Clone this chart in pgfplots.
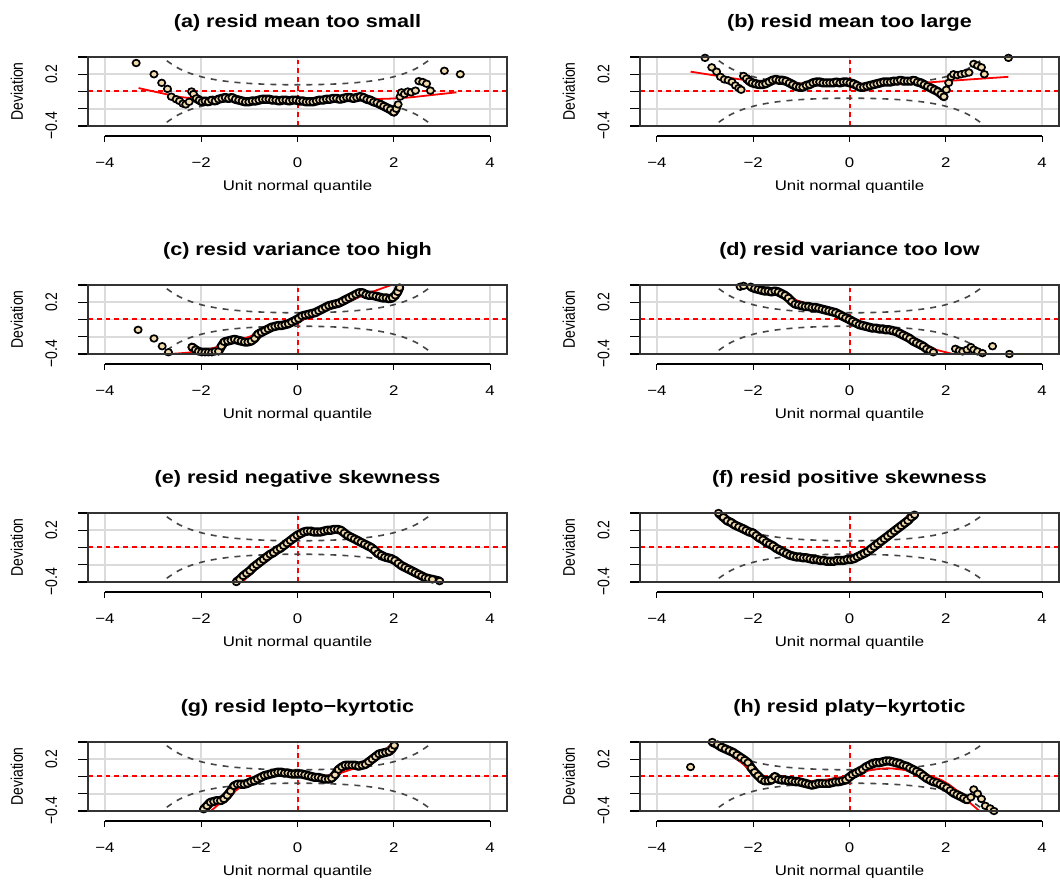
\documentclass[border=0pt]{standalone}
\usepackage{fontspec}
\setmainfont{Liberation Sans}[FakeStretch=1.2]
\newfontfamily\rotfont{Liberation Sans}
\usepackage{pgfplots}
\usepackage{pgfplotstable}
\pgfplotsset{compat=1.18}
\definecolor{wheatc}{HTML}{F2DCAE}
\definecolor{refred}{RGB}{255,0,0}
\definecolor{banddark}{RGB}{70,70,70}

\pgfplotstableread{
z up lo
-2.9 0.4493 -0.4493
-2.75 0.3715 -0.3715
-2.5 0.2778 -0.2778
-2.25 0.2146 -0.2146
-2.0 0.1712 -0.1712
-1.75 0.1409 -0.1409
-1.5 0.1195 -0.1195
-1.25 0.1043 -0.1043
-1.0 0.0936 -0.0936
-0.75 0.0862 -0.0862
-0.5 0.0813 -0.0813
-0.25 0.0786 -0.0786
0 0.0777 -0.0777
0.25 0.0786 -0.0786
0.5 0.0813 -0.0813
0.75 0.0862 -0.0862
1.0 0.0936 -0.0936
1.25 0.1043 -0.1043
1.5 0.1195 -0.1195
1.75 0.1409 -0.1409
2.0 0.1712 -0.1712
2.25 0.2146 -0.2146
2.5 0.2778 -0.2778
2.75 0.3715 -0.3715
2.9 0.4493 -0.4493
}\bandtab

\pgfplotstableread{
x y
-4.35 0.004
4.35 0.004
}\hreftab
\pgfplotstableread{
x y
0.008 -0.4
0.008 0.4
}\vreftab

% worm points, one table per panel
\pgfplotstableread[row sep=\\]{x y\\
-3.35 0.33\\ -2.98 0.20\\ -2.82 0.10\\ -2.70 0.03\\ -2.62 -0.06\\ -2.52 -0.09\\ -2.45 -0.11\\ -2.38 -0.14\\ -2.32 -0.15\\ -2.25 -0.12\\ -2.20 0.00\\ -2.16 -0.03\\ -2.10 -0.08\\ -2.04 -0.10\\ -1.98 -0.12\\ -1.92 -0.11\\ -1.85 -0.12\\ -1.78 -0.10\\ -1.71 -0.11\\ -1.64 -0.09\\ -1.57 -0.08\\ -1.50 -0.07\\ -1.43 -0.08\\ -1.36 -0.07\\ -1.29 -0.09\\ -1.22 -0.10\\ -1.15 -0.11\\ -1.08 -0.12\\ -1.01 -0.12\\ -0.94 -0.11\\ -0.87 -0.11\\ -0.80 -0.10\\ -0.73 -0.09\\ -0.66 -0.09\\ -0.59 -0.09\\ -0.52 -0.10\\ -0.45 -0.10\\ -0.38 -0.11\\ -0.31 -0.10\\ -0.24 -0.10\\ -0.17 -0.11\\ -0.10 -0.10\\ -0.03 -0.10\\ 0.04 -0.11\\ 0.11 -0.11\\ 0.18 -0.12\\ 0.25 -0.12\\ 0.32 -0.12\\ 0.39 -0.11\\ 0.46 -0.10\\ 0.53 -0.10\\ 0.60 -0.09\\ 0.67 -0.09\\ 0.74 -0.08\\ 0.81 -0.08\\ 0.88 -0.09\\ 0.95 -0.08\\ 1.02 -0.07\\ 1.09 -0.07\\ 1.16 -0.08\\ 1.23 -0.07\\ 1.30 -0.06\\ 1.37 -0.07\\ 1.44 -0.09\\ 1.51 -0.10\\ 1.58 -0.12\\ 1.65 -0.13\\ 1.72 -0.15\\ 1.79 -0.17\\ 1.86 -0.19\\ 1.93 -0.21\\ 2.00 -0.24\\ 2.05 -0.20\\ 2.09 -0.15\\ 2.13 -0.06\\ 2.16 -0.01\\ 2.22 -0.03\\ 2.29 0.00\\ 2.36 -0.01\\ 2.45 0.01\\ 2.52 0.12\\ 2.60 0.11\\ 2.68 0.09\\ 2.76 0.01\\ 3.05 0.24\\ 3.38 0.20\\
}\ptsA
\pgfplotstableread[row sep=\\]{x y\\
-3.00 0.39\\ -2.86 0.28\\ -2.76 0.23\\ -2.68 0.17\\ -2.60 0.14\\ -2.52 0.13\\ -2.44 0.11\\ -2.37 0.07\\ -2.30 0.04\\ -2.25 0.02\\ -2.20 0.18\\ -2.14 0.15\\ -2.08 0.12\\ -2.02 0.10\\ -1.95 0.09\\ -1.88 0.08\\ -1.81 0.08\\ -1.74 0.09\\ -1.67 0.11\\ -1.60 0.13\\ -1.53 0.14\\ -1.46 0.13\\ -1.39 0.13\\ -1.32 0.12\\ -1.25 0.10\\ -1.18 0.08\\ -1.11 0.06\\ -1.04 0.05\\ -0.97 0.05\\ -0.90 0.07\\ -0.83 0.08\\ -0.76 0.10\\ -0.69 0.11\\ -0.62 0.11\\ -0.55 0.10\\ -0.48 0.10\\ -0.41 0.10\\ -0.34 0.10\\ -0.27 0.11\\ -0.20 0.10\\ -0.13 0.11\\ -0.06 0.11\\ 0.01 0.10\\ 0.08 0.09\\ 0.15 0.07\\ 0.22 0.05\\ 0.29 0.05\\ 0.36 0.06\\ 0.43 0.07\\ 0.50 0.08\\ 0.57 0.09\\ 0.64 0.10\\ 0.71 0.11\\ 0.78 0.11\\ 0.85 0.11\\ 0.92 0.12\\ 0.99 0.12\\ 1.06 0.13\\ 1.13 0.12\\ 1.20 0.12\\ 1.27 0.12\\ 1.34 0.13\\ 1.41 0.11\\ 1.48 0.10\\ 1.55 0.08\\ 1.62 0.06\\ 1.69 0.04\\ 1.76 0.02\\ 1.83 0.00\\ 1.90 -0.03\\ 1.96 -0.06\\ 2.01 0.02\\ 2.06 0.10\\ 2.11 0.17\\ 2.16 0.20\\ 2.24 0.19\\ 2.32 0.20\\ 2.40 0.21\\ 2.48 0.22\\ 2.58 0.32\\ 2.66 0.30\\ 2.74 0.28\\ 2.80 0.20\\ 3.30 0.39\\
}\ptsB
\pgfplotstableread[row sep=\\]{x y\\
-3.31 -0.12\\ -2.98 -0.22\\ -2.81 -0.31\\ -2.68 -0.38\\ -2.19 -0.32\\ -2.12 -0.35\\ -2.06 -0.37\\ -1.99 -0.38\\ -1.92 -0.38\\ -1.85 -0.38\\ -1.78 -0.38\\ -1.71 -0.37\\ -1.64 -0.37\\ -1.58 -0.31\\ -1.52 -0.26\\ -1.45 -0.25\\ -1.38 -0.24\\ -1.31 -0.23\\ -1.24 -0.24\\ -1.17 -0.25\\ -1.10 -0.26\\ -1.03 -0.26\\ -0.96 -0.25\\ -0.89 -0.22\\ -0.82 -0.17\\ -0.75 -0.15\\ -0.68 -0.13\\ -0.61 -0.11\\ -0.54 -0.09\\ -0.47 -0.08\\ -0.40 -0.07\\ -0.33 -0.07\\ -0.26 -0.06\\ -0.19 -0.05\\ -0.12 -0.03\\ -0.05 -0.01\\ 0.02 0.01\\ 0.09 0.04\\ 0.16 0.05\\ 0.23 0.06\\ 0.30 0.07\\ 0.37 0.08\\ 0.44 0.10\\ 0.51 0.12\\ 0.58 0.14\\ 0.65 0.16\\ 0.72 0.17\\ 0.79 0.18\\ 0.86 0.19\\ 0.93 0.21\\ 1.00 0.23\\ 1.07 0.25\\ 1.14 0.27\\ 1.21 0.29\\ 1.28 0.31\\ 1.35 0.31\\ 1.42 0.29\\ 1.49 0.28\\ 1.56 0.28\\ 1.63 0.27\\ 1.70 0.26\\ 1.77 0.25\\ 1.84 0.25\\ 1.91 0.24\\ 1.97 0.25\\ 2.03 0.28\\ 2.08 0.32\\ 2.12 0.37\\
}\ptsC
\pgfplotstableread[row sep=\\]{x y\\
-2.27 0.38\\ -2.20 0.39\\ -2.05 0.38\\ -1.97 0.36\\ -1.90 0.35\\ -1.83 0.34\\ -1.76 0.33\\ -1.69 0.33\\ -1.62 0.32\\ -1.55 0.33\\ -1.48 0.32\\ -1.41 0.30\\ -1.34 0.28\\ -1.27 0.25\\ -1.20 0.21\\ -1.13 0.18\\ -1.06 0.17\\ -0.99 0.16\\ -0.92 0.15\\ -0.85 0.15\\ -0.78 0.14\\ -0.71 0.14\\ -0.64 0.13\\ -0.57 0.12\\ -0.50 0.11\\ -0.43 0.10\\ -0.36 0.09\\ -0.29 0.08\\ -0.22 0.06\\ -0.15 0.04\\ -0.08 0.02\\ -0.01 0.00\\ 0.06 -0.02\\ 0.13 -0.04\\ 0.20 -0.06\\ 0.27 -0.07\\ 0.34 -0.08\\ 0.41 -0.09\\ 0.48 -0.10\\ 0.55 -0.10\\ 0.62 -0.11\\ 0.69 -0.11\\ 0.76 -0.12\\ 0.83 -0.12\\ 0.90 -0.13\\ 0.97 -0.14\\ 1.04 -0.16\\ 1.11 -0.18\\ 1.18 -0.20\\ 1.25 -0.22\\ 1.32 -0.25\\ 1.39 -0.27\\ 1.46 -0.29\\ 1.53 -0.31\\ 1.60 -0.34\\ 1.67 -0.36\\ 1.74 -0.38\\ 2.20 -0.34\\ 2.28 -0.36\\ 2.35 -0.37\\ 2.44 -0.35\\ 2.52 -0.32\\ 2.58 -0.35\\ 2.66 -0.37\\ 2.76 -0.39\\ 2.97 -0.31\\ 3.32 -0.40\\
}\ptsD
\pgfplotstableread[row sep=\\]{x y\\
-1.27 -0.40\\ -1.20 -0.37\\ -1.13 -0.33\\ -1.06 -0.30\\ -0.99 -0.27\\ -0.92 -0.23\\ -0.85 -0.20\\ -0.78 -0.17\\ -0.71 -0.14\\ -0.64 -0.11\\ -0.57 -0.08\\ -0.50 -0.06\\ -0.43 -0.03\\ -0.36 -0.01\\ -0.29 0.02\\ -0.22 0.05\\ -0.15 0.08\\ -0.08 0.11\\ -0.01 0.14\\ 0.06 0.16\\ 0.13 0.18\\ 0.20 0.19\\ 0.27 0.19\\ 0.34 0.18\\ 0.41 0.18\\ 0.48 0.18\\ 0.55 0.19\\ 0.62 0.20\\ 0.69 0.20\\ 0.76 0.21\\ 0.83 0.21\\ 0.90 0.20\\ 0.97 0.17\\ 1.04 0.14\\ 1.11 0.12\\ 1.18 0.10\\ 1.25 0.08\\ 1.32 0.06\\ 1.39 0.04\\ 1.46 0.02\\ 1.53 0.00\\ 1.60 -0.03\\ 1.67 -0.07\\ 1.74 -0.09\\ 1.81 -0.11\\ 1.88 -0.12\\ 1.95 -0.13\\ 2.02 -0.15\\ 2.09 -0.18\\ 2.16 -0.21\\ 2.23 -0.23\\ 2.30 -0.25\\ 2.37 -0.27\\ 2.44 -0.29\\ 2.51 -0.31\\ 2.58 -0.33\\ 2.65 -0.35\\ 2.72 -0.36\\ 2.80 -0.37\\ 2.95 -0.39\\
}\ptsE
\pgfplotstableread[row sep=\\]{x y\\
-2.72 0.40\\ -2.62 0.35\\ -2.54 0.31\\ -2.46 0.29\\ -2.38 0.26\\ -2.30 0.24\\ -2.22 0.22\\ -2.15 0.20\\ -2.08 0.18\\ -2.01 0.17\\ -1.94 0.14\\ -1.87 0.11\\ -1.80 0.09\\ -1.73 0.06\\ -1.66 0.04\\ -1.59 0.02\\ -1.52 -0.01\\ -1.45 -0.03\\ -1.38 -0.05\\ -1.31 -0.07\\ -1.24 -0.09\\ -1.17 -0.10\\ -1.10 -0.11\\ -1.03 -0.11\\ -0.96 -0.12\\ -0.89 -0.12\\ -0.82 -0.13\\ -0.75 -0.14\\ -0.68 -0.14\\ -0.61 -0.15\\ -0.54 -0.15\\ -0.47 -0.16\\ -0.40 -0.16\\ -0.33 -0.16\\ -0.26 -0.15\\ -0.19 -0.15\\ -0.12 -0.15\\ -0.05 -0.14\\ 0.02 -0.14\\ 0.09 -0.13\\ 0.16 -0.11\\ 0.23 -0.09\\ 0.30 -0.07\\ 0.37 -0.05\\ 0.44 -0.02\\ 0.51 0.01\\ 0.58 0.04\\ 0.65 0.07\\ 0.72 0.10\\ 0.79 0.13\\ 0.86 0.16\\ 0.93 0.19\\ 1.00 0.22\\ 1.07 0.25\\ 1.14 0.28\\ 1.21 0.31\\ 1.28 0.35\\ 1.35 0.38\\
}\ptsF
\pgfplotstableread[row sep=\\]{x y\\
-1.95 -0.38\\ -1.88 -0.34\\ -1.81 -0.30\\ -1.74 -0.29\\ -1.67 -0.28\\ -1.60 -0.28\\ -1.53 -0.26\\ -1.46 -0.22\\ -1.39 -0.17\\ -1.32 -0.11\\ -1.25 -0.09\\ -1.18 -0.09\\ -1.11 -0.09\\ -1.04 -0.08\\ -0.97 -0.06\\ -0.90 -0.05\\ -0.83 -0.03\\ -0.76 -0.01\\ -0.69 0.01\\ -0.62 0.02\\ -0.55 0.03\\ -0.48 0.04\\ -0.41 0.05\\ -0.34 0.05\\ -0.27 0.04\\ -0.20 0.04\\ -0.13 0.03\\ -0.06 0.03\\ 0.01 0.03\\ 0.08 0.03\\ 0.15 0.02\\ 0.22 0.01\\ 0.29 0.00\\ 0.36 -0.01\\ 0.43 -0.01\\ 0.50 -0.02\\ 0.57 -0.03\\ 0.64 -0.03\\ 0.71 -0.02\\ 0.78 0.02\\ 0.85 0.08\\ 0.92 0.11\\ 0.99 0.13\\ 1.06 0.13\\ 1.13 0.13\\ 1.20 0.13\\ 1.27 0.12\\ 1.34 0.13\\ 1.41 0.14\\ 1.48 0.17\\ 1.55 0.20\\ 1.62 0.23\\ 1.69 0.26\\ 1.76 0.27\\ 1.83 0.28\\ 1.90 0.29\\ 1.96 0.32\\ 2.01 0.36\\
}\ptsG
\pgfplotstableread[row sep=\\]{x y\\
-3.30 0.11\\ -2.85 0.40\\ -2.74 0.37\\ -2.66 0.34\\ -2.58 0.32\\ -2.50 0.30\\ -2.42 0.28\\ -2.34 0.25\\ -2.26 0.22\\ -2.18 0.19\\ -2.11 0.16\\ -2.04 0.10\\ -1.97 0.05\\ -1.90 0.01\\ -1.83 -0.03\\ -1.76 -0.05\\ -1.69 -0.05\\ -1.62 -0.04\\ -1.55 0.00\\ -1.48 -0.03\\ -1.41 -0.04\\ -1.34 -0.04\\ -1.27 -0.05\\ -1.20 -0.05\\ -1.13 -0.06\\ -1.06 -0.06\\ -0.99 -0.07\\ -0.92 -0.08\\ -0.85 -0.09\\ -0.78 -0.10\\ -0.71 -0.09\\ -0.64 -0.08\\ -0.57 -0.08\\ -0.50 -0.08\\ -0.43 -0.08\\ -0.36 -0.07\\ -0.29 -0.06\\ -0.22 -0.06\\ -0.15 -0.05\\ -0.08 -0.04\\ -0.01 -0.01\\ 0.06 0.02\\ 0.13 0.04\\ 0.20 0.06\\ 0.27 0.08\\ 0.34 0.11\\ 0.41 0.13\\ 0.48 0.15\\ 0.55 0.16\\ 0.62 0.16\\ 0.69 0.17\\ 0.76 0.18\\ 0.83 0.18\\ 0.90 0.17\\ 0.97 0.16\\ 1.04 0.15\\ 1.11 0.13\\ 1.18 0.12\\ 1.25 0.10\\ 1.32 0.08\\ 1.39 0.06\\ 1.46 0.04\\ 1.53 0.01\\ 1.60 -0.02\\ 1.67 -0.04\\ 1.74 -0.06\\ 1.81 -0.07\\ 1.88 -0.09\\ 1.95 -0.11\\ 2.02 -0.13\\ 2.09 -0.16\\ 2.16 -0.19\\ 2.23 -0.21\\ 2.30 -0.23\\ 2.37 -0.25\\ 2.44 -0.27\\ 2.52 -0.24\\ 2.58 -0.15\\ 2.66 -0.20\\ 2.74 -0.26\\ 2.82 -0.34\\ 2.92 -0.37\\ 3.00 -0.40\\
}\ptsH

\pgfplotsset{
  wormband/.style={draw=banddark, line width=0.8pt, dash pattern=on 3pt off 3pt, smooth, mark=none},
  wormref/.style={draw=refred, line width=0.8pt, dash pattern=on 2.4pt off 2pt, mark=none},
  wormline/.style={draw=black, line width=4.6pt, line join=round, line cap=round, mark=none, unbounded coords=jump},
  wormpts/.style={only marks, mark=*, mark size=1.65pt,
    mark options={fill=wheatc, draw=black, line width=0.85pt, xscale=1.1}},
  wormfit/.style={draw=refred, line width=0.9pt, smooth, mark=none},
  wormax/.style={
    scale only axis, width=209.5pt, height=34.5pt,
    xmin=-4.35, xmax=4.35, ymin=-0.4, ymax=0.4,
    axis x line*=bottom, axis y line*=left,
    x axis line style={draw=none},
    y axis line style={-, black, line width=0.8pt},
    xtick={-4,-2,0,2,4}, xticklabels={−4,−2,0,2,4},
    ytick={-0.4,-0.2,0,0.2,0.4}, yticklabels={−0.4,,,0.2,},
    tick align=outside,
    xtick style={black, line width=0.6pt, yshift=-5pt, /pgfplots/major tick length=3pt},
    ytick style={black, line width=0.6pt, /pgfplots/major tick length=5pt},
    xticklabel style={anchor=center, yshift=-14pt, font=\fontsize{7}{8}\selectfont},
    yticklabel style={anchor=center, xshift=-14pt, xscale=1.2, rotate=90, font=\rotfont\fontsize{7}{8}\selectfont},
    grid=major, major grid style={gray!28, line width=0.9pt},
    xlabel={Unit normal quantile}, ylabel={Deviation},
    every axis x label/.style={at={(axis description cs:0.5,-0.884)}, anchor=center, font=\fontsize{7}{8}\selectfont},
    every axis y label/.style={at={(axis description cs:-0.1695,0.5)}, anchor=center, xscale=1.2, rotate=90, font=\rotfont\fontsize{7}{8}\selectfont},
    every axis title/.style={at={(axis description cs:0.5,1.493)}, anchor=center, font=\bfseries\fontsize{9}{10}\selectfont},
    after end axis/.code={
      \draw[black, line width=0.8pt] ([yshift=-5pt]axis cs:-4,-0.4) -- ([yshift=-5pt]axis cs:4,-0.4);
      \draw[black!80, line width=0.8pt] (rel axis cs:0,0) rectangle (rel axis cs:1,1);
    },
  },
}

\newcommand{\wormframe}{%
\addplot[wormref] table {\hreftab};
\addplot[wormref] table {\vreftab};
\addplot[wormband] table[x=z,y=up]{\bandtab};
\addplot[wormband] table[x=z,y=lo]{\bandtab};
}
% #1 table, #2 dense domain
\newcommand{\worm}[2]{%
\addplot[wormline, restrict x to domain=#2] table {#1};
\addplot[wormpts] table {#1};
}

\begin{document}
\begin{tikzpicture}
\path[use as bounding box] (0,0) rectangle (530pt,439.5pt);

\begin{axis}[wormax, at={(44pt,411pt)}, anchor=north west, title={(a) resid mean too small}]
\wormframe
\worm{\ptsA}{-2.15:2.06}
\addplot[wormfit] coordinates {(-3.3,0.04) (-2.9,-0.01) (-2.4,-0.066) (-1.8,-0.09) (-1,-0.1) (0,-0.105) (1,-0.09) (1.8,-0.085) (2.3,-0.07) (2.8,-0.04) (3.3,-0.01)};
\end{axis}

\begin{axis}[wormax, at={(320pt,411pt)}, anchor=north west, title={(b) resid mean too large}]
\wormframe
\worm{\ptsB}{-2.15:1.97}
\addplot[wormfit] coordinates {(-3.3,0.23) (-2.5,0.16) (-2,0.12) (-1.5,0.1) (-1,0.09) (-0.5,0.085) (0,0.08) (0.5,0.085) (1,0.09) (1.5,0.1) (2,0.12) (2.5,0.14) (3.3,0.17)};
\end{axis}

\begin{axis}[wormax, at={(44pt,297pt)}, anchor=north west, title={(c) resid variance too high}]
\wormframe
\worm{\ptsC}{-2.2:2.15}
\addplot[wormfit] coordinates {(-2.65,-0.40) (-2.2,-0.38) (-1.8,-0.34) (-1.5,-0.29) (-1.0,-0.2) (-0.5,-0.1) (0,-0.02) (0.5,0.09) (1.0,0.2) (1.5,0.31) (1.95,0.40)};
\end{axis}

\begin{axis}[wormax, at={(320pt,297pt)}, anchor=north west, title={(d) resid variance too low}]
\wormframe
\worm{\ptsD}{-2.1:1.75}
\addplot[wormfit] coordinates {(-1.97,0.40) (-1.5,0.31) (-1.0,0.2) (-0.5,0.1) (0,0.0) (0.5,-0.09) (1.0,-0.18) (1.5,-0.29) (1.8,-0.35) (2.15,-0.40)};
\end{axis}

\begin{axis}[wormax, at={(44pt,183pt)}, anchor=north west, title={(e) resid negative skewness}]
\wormframe
\worm{\ptsE}{-1.3:2.96}
\addplot[wormfit] coordinates {(-1.15,-0.40) (-0.8,-0.2) (-0.5,-0.06) (-0.2,0.07) (0,0.13) (0.3,0.17) (0.6,0.185) (0.85,0.175) (1.2,0.09) (1.5,0.01) (2.0,-0.15) (2.5,-0.3) (3.0,-0.40)};
\end{axis}

\begin{axis}[wormax, at={(320pt,183pt)}, anchor=north west, title={(f) resid positive skewness}]
\wormframe
\worm{\ptsF}{-2.75:1.4}
\addplot[wormfit] coordinates {(-2.8,0.40) (-2.4,0.27) (-2.0,0.16) (-1.5,0.0) (-1.0,-0.11) (-0.5,-0.15) (0,-0.13) (0.4,-0.05) (0.8,0.1) (1.1,0.27) (1.25,0.40)};
\end{axis}

\begin{axis}[wormax, at={(44pt,68.5pt)}, anchor=north west, title={(g) resid lepto−kyrtotic}]
\wormframe
\worm{\ptsG}{-2.0:2.05}
\addplot[wormfit] coordinates {(-1.8,-0.40) (-1.5,-0.26) (-1.2,-0.13) (-1.0,-0.06) (-0.5,0.02) (0,0.025) (0.5,0.0) (0.8,0.03) (1.0,0.06) (1.5,0.17) (2.02,0.40)};
\end{axis}

\begin{axis}[wormax, at={(320pt,68.5pt)}, anchor=north west, title={(h) resid platy−kyrtotic}]
\wormframe
\worm{\ptsH}{-2.9:2.5}
\addplot[wormfit] coordinates {(-2.8,0.40) (-2.5,0.28) (-2.2,0.14) (-2.0,0.04) (-1.7,-0.03) (-1.3,-0.05) (-0.8,-0.06) (-0.4,-0.03) (0,0.01) (0.4,0.07) (0.8,0.095) (1.2,0.07) (1.5,0.03) (1.9,-0.04) (2.2,-0.15) (2.45,-0.28) (2.7,-0.40)};
\end{axis}
\end{tikzpicture}
\end{document}
